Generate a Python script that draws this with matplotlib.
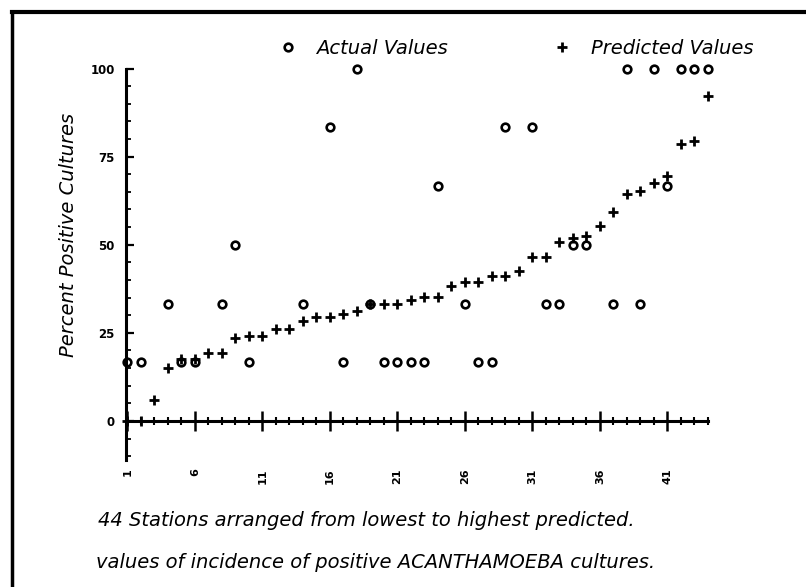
import matplotlib
matplotlib.use('Agg')
import matplotlib.pyplot as plt
from matplotlib.lines import Line2D

# ---- data -------------------------------------------------------------
# None = actual value not visible in the original (lies on the zero line)
stations = list(range(1, 45))
actual = [16.7, 16.7, None, 33.3, 16.7, 16.7, None, 33.3, 50, 16.7,
          None, None, None, 33.3, None, 83.3, 16.7, 100, 33.3, 16.7,
          16.7, 16.7, 16.7, 66.7, None, 33.3, 16.7, 16.7, 83.3, None,
          83.3, 33.3, 33.3, 50, 50, None, 33.3, 100, 33.3, 100,
          66.7, 100, 100, 100]
predicted = [0, 0, 6.0, 15.1, 17.7, 17.7, 19.4, 19.4, 23.4, 24.2,
             24.2, 26.2, 26.2, 28.3, 29.4, 29.4, 30.4, 31.3, 33.3, 33.3,
             33.3, 34.2, 35.3, 35.3, 38.2, 39.3, 39.3, 41.2, 41.2, 42.5,
             46.4, 46.4, 50.7, 52.0, 52.4, 55.3, 59.3, 64.4, 65.2, 67.5,
             69.5, 78.6, 79.5, 92.3]
x_major = [1, 6, 11, 16, 21, 26, 31, 36, 41]
x_labels = ['1', '6', '11', '16', '21', '26', '31', '36', '41']
y_major = [0, 25, 50, 75, 100]
y_labels = ['0', '25', '50', '75', '100']
y_minor = list(range(-10, 101, 5))

actual_plot = [float('nan') if v is None else v for v in actual]

W, H = 806, 587
fig = plt.figure(figsize=(W / 100, H / 100), dpi=100)
y_bottom = 460.0
y_top = 68.5
ax = fig.add_axes([126 / W, 1 - y_bottom / H, 582 / W, (y_bottom - y_top) / H])
ax.set_xlim(0.89, 44.0)
ax.set_ylim(-(y_bottom - 421) / 3.52, 100)

l_act, = ax.plot(stations, actual_plot, linestyle='none', marker='o', ms=5.5,
                 mfc='white', mec='black', mew=1.9, clip_on=False,
                 label='Actual Values')
l_pred, = ax.plot(stations, predicted, linestyle='none', marker='+', ms=7,
                  mew=2.0, color='black', clip_on=False,
                  label='Predicted Values')

for s in ('top', 'right'):
    ax.spines[s].set_visible(False)
ax.spines['left'].set_linewidth(2.2)
ax.spines['bottom'].set_position(('data', 0))
ax.spines['bottom'].set_linewidth(2.2)

ax.set_xticks(x_major)
ax.set_xticks(stations, minor=True)
ax.tick_params(axis='x', which='major', direction='inout', length=14,
               width=1.8, labelbottom=False)
ax.tick_params(axis='x', which='minor', direction='inout', length=6,
               width=1.5)

ax.set_yticks(y_major, labels=y_labels)
ax.set_yticks(y_minor, minor=True)
ax.tick_params(axis='y', which='major', direction='in', length=6,
               width=1.6, pad=8, labelsize=8.5)
ax.tick_params(axis='y', which='minor', direction='in', length=3.5,
               width=1.3)
for t in ax.get_yticklabels():
    t.set_fontweight('bold')

sec = ax.secondary_xaxis(0)
sec.set_xticks(x_major, labels=x_labels)
sec.tick_params(length=0, pad=6, labelrotation=90, labelsize=8)
sec.spines['bottom'].set_visible(False)
for t in sec.get_xticklabels():
    t.set_fontweight('bold')

ax.set_ylabel('Percent Positive Cultures', fontsize=14, style='italic')
ax.yaxis.set_label_coords(-0.082, 0.575)

ax.legend(handles=[l_act, l_pred], ncol=2, frameon=False,
          loc='center left', bbox_to_anchor=(278 / W, 1 - 48 / H),
          bbox_transform=fig.transFigure,
          handlelength=1.0, handletextpad=0.95, columnspacing=5.4,
          borderpad=0, borderaxespad=0,
          prop={'style': 'italic', 'size': 14})

fig.text(98 / W, 1 - 521 / H,
         '44 Stations arranged from lowest to highest predicted.',
         fontsize=14, style='italic', va='center', ha='left')
fig.text(96 / W, 1 - 562 / H,
         'values of incidence of positive ACANTHAMOEBA cultures.',
         fontsize=14, style='italic', va='center', ha='left')

# page frame (left and top rules)
fig.add_artist(Line2D([12 / W, 12 / W], [0, 1 - 12 / H], color='black',
                      lw=2.5, transform=fig.transFigure))
fig.add_artist(Line2D([12 / W, 1], [1 - 12 / H, 1 - 12 / H], color='black',
                      lw=3.0, transform=fig.transFigure))

fig.savefig('out.png', dpi=100)
